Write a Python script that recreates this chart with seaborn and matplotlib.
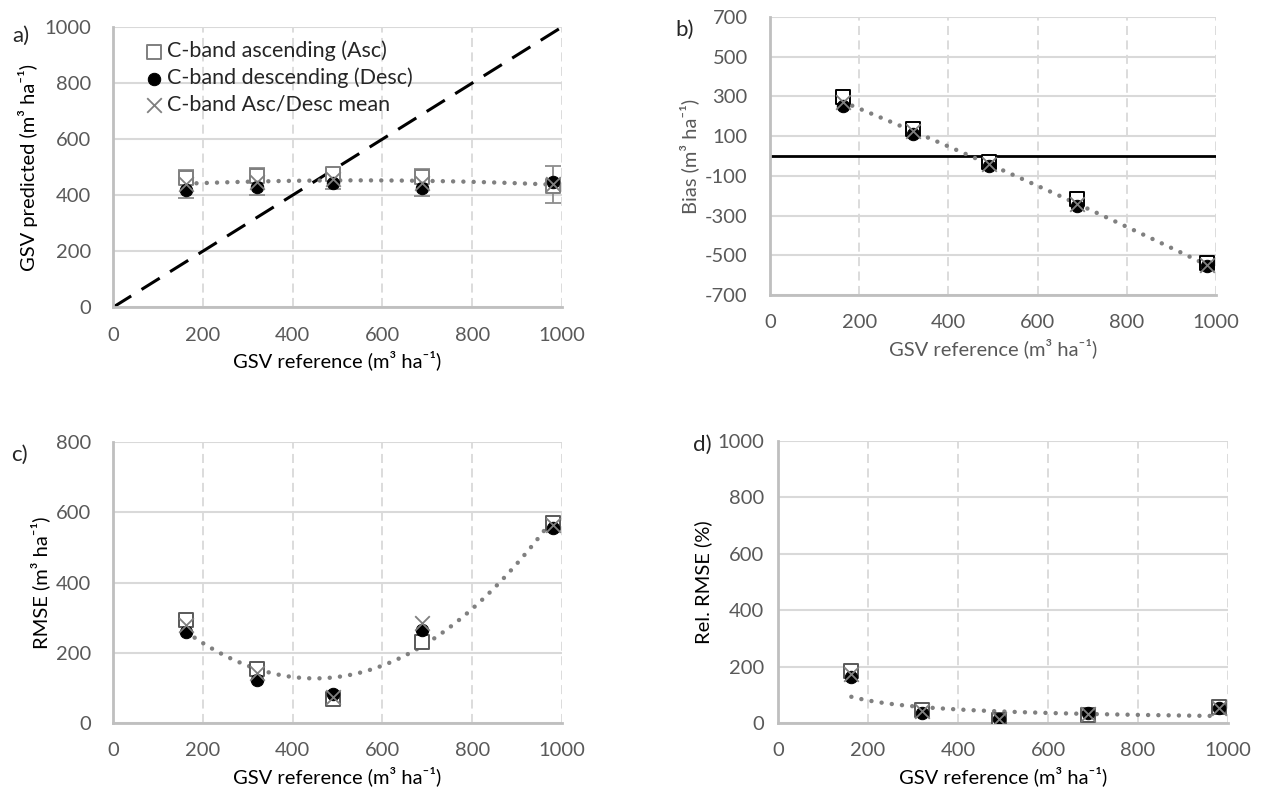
import numpy as np
import pandas as pd
import seaborn as sns
import matplotlib.pyplot as plt

sns.set_style("white")
plt.rcParams['font.family'] = ['Lato', 'DejaVu Sans']
plt.rcParams['axes.unicode_minus'] = False

# GSV reference classes (x positions of the points)
gsv_ref = [163, 321, 490, 688, 980]

# a) predicted GSV
pred_asc = [461, 468, 475, 464, 432]
pred_desc = [418, 429, 443, 425, 446]
pred_mean = [440, 448, 459, 445, 439]
pred_err = [50, 48, 38, 48, 66]

# b) bias
bias_asc = [297, 136, -30, -217, -540]
bias_desc = [252, 111, -50, -252, -555]
bias_mean = [272, 126, -40, -242, -549]

# c) RMSE
rmse_asc = [293, 154, 68, 231, 570]
rmse_desc = [259, 122, 83, 265, 555]
rmse_mean = [279, 142, 74, 285, 563]

# d) relative RMSE (%)
rel_asc = [184, 46, 11, 28, 57]
rel_desc = [163, 35, 14, 35, 53]
rel_mean = [173, 41, 14, 32, 55]

tick_col = "#595959"
grid_col = "#d9d9d9"
spine_col = "#bfbfbf"
trend_col = "#808080"
unit = " (m\u00b3 ha\u207b\u00b9)"
dots = (0, (0.01, 2.3))

fig = plt.figure(figsize=(12.63, 7.94), dpi=100)
ax_a = fig.add_axes([0.0895, 0.613, 0.3555, 0.353])
ax_b = fig.add_axes([0.6097, 0.6285, 0.3531, 0.3501])
ax_c = fig.add_axes([0.0895, 0.0894, 0.3555, 0.3539])
ax_d = fig.add_axes([0.616, 0.0894, 0.3563, 0.3552])


def style_axis(ax, ylim, yticks, ypad=16):
    ax.set_xlim(0, 1000)
    ax.set_ylim(*ylim)
    ax.set_xticks(range(0, 1001, 200))
    ax.set_yticks(yticks)
    for y in yticks:
        ax.axhline(y, color=grid_col, lw=1.5, zorder=0)
    for x in range(200, 1001, 200):
        ax.axvline(x, color=grid_col, lw=1.3, ls=(0, (5, 3)), zorder=0)
    for s in ["top", "right"]:
        ax.spines[s].set_visible(False)
    for s in ["left", "bottom"]:
        ax.spines[s].set_color(spine_col)
        ax.spines[s].set_linewidth(2)
    ax.tick_params(length=0, labelsize=14.5, labelcolor=tick_col)
    ax.tick_params(axis="x", pad=14)
    ax.tick_params(axis="y", pad=ypad)


def set_labels(ax, ylabel, label_col="black"):
    ax.set_xlabel("GSV reference" + unit, fontsize=14.5, color=label_col, labelpad=5)
    ax.set_ylabel(ylabel, fontsize=14.5, color=label_col, labelpad=4)


def draw_points(ax, asc, desc, mean, sq_col="black"):
    df = pd.DataFrame({"x": gsv_ref, "asc": asc, "desc": desc, "mean": mean})
    sns.scatterplot(data=df, x="x", y="asc", ax=ax, marker="s", s=105,
                    facecolor="white", edgecolor=sq_col, linewidth=1.4, zorder=3,
                    label="C-band ascending (Asc)")
    sns.scatterplot(data=df, x="x", y="desc", ax=ax, marker="o", s=80,
                    color="black", edgecolor="black", zorder=4,
                    label="C-band descending (Desc)")
    sns.scatterplot(data=df, x="x", y="mean", ax=ax, marker="x", s=110,
                    color="#7f7f7f", linewidth=1.3, zorder=5,
                    label="C-band Asc/Desc mean")
    return df


def poly_trend(ax, df):
    sns.regplot(data=df, x="x", y="mean", ax=ax, order=2, ci=None, scatter=False,
                truncate=True,
                line_kws=dict(color=trend_col, lw=3.2, ls=dots,
                              dash_capstyle="round", zorder=2))


# a)
style_axis(ax_a, (0, 1000), range(0, 1001, 200))
ax_a.axline((0, 0), slope=1, color="black", lw=2.2, ls=(0, (7, 4)), zorder=2)
df_a = draw_points(ax_a, pred_asc, pred_desc, pred_mean, sq_col="#7f7f7f")
ax_a.errorbar(gsv_ref, pred_mean, yerr=pred_err, fmt="none", ecolor="#8c8c8c",
              elinewidth=1.3, capsize=6, capthick=1.3, zorder=2)
poly_trend(ax_a, df_a)
ax_a.legend(loc="upper left", bbox_to_anchor=(0.02, 1.005), frameon=False,
            fontsize=15.5, handletextpad=-0.2, labelspacing=0.3,
            borderaxespad=0.3, handlelength=1.6)
set_labels(ax_a, "GSV predicted" + unit)

# b)
style_axis(ax_b, (-700, 700), range(-700, 701, 200))
ax_b.axhline(0, color="black", lw=2, zorder=2)
df_b = draw_points(ax_b, bias_asc, bias_desc, bias_mean)
poly_trend(ax_b, df_b)
ax_b.get_legend().remove()
set_labels(ax_b, "Bias" + unit, label_col=tick_col)

# c)
style_axis(ax_c, (0, 800), range(0, 801, 200))
df_c = draw_points(ax_c, rmse_asc, rmse_desc, rmse_mean, sq_col="#595959")
poly_trend(ax_c, df_c)
ax_c.get_legend().remove()
set_labels(ax_c, "RMSE" + unit)

# d) power trend y = a * x^b fitted in log space
style_axis(ax_d, (0, 1000), range(0, 1001, 200), ypad=10)
df_d = draw_points(ax_d, rel_asc, rel_desc, rel_mean, sq_col="#595959")
b_pow, ln_a = np.polyfit(np.log(gsv_ref), np.log(rel_mean), 1)
xs = np.linspace(min(gsv_ref), max(gsv_ref), 200)
sns.lineplot(x=xs, y=np.exp(ln_a) * xs ** b_pow, ax=ax_d, color=trend_col, lw=3.2,
             ls=dots, dash_capstyle="round", zorder=2)
if ax_d.get_legend():
    ax_d.get_legend().remove()
set_labels(ax_d, "Rel. RMSE (%)")

# panel letters
fig.text(0.010, 0.955, "a)", fontsize=16, va="center")
fig.text(0.535, 0.962, "b)", fontsize=16, va="center")
fig.text(0.009, 0.427, "c)", fontsize=16, va="center")
fig.text(0.549, 0.44, "d)", fontsize=16, va="center")

fig.savefig("out.png", dpi=100)
